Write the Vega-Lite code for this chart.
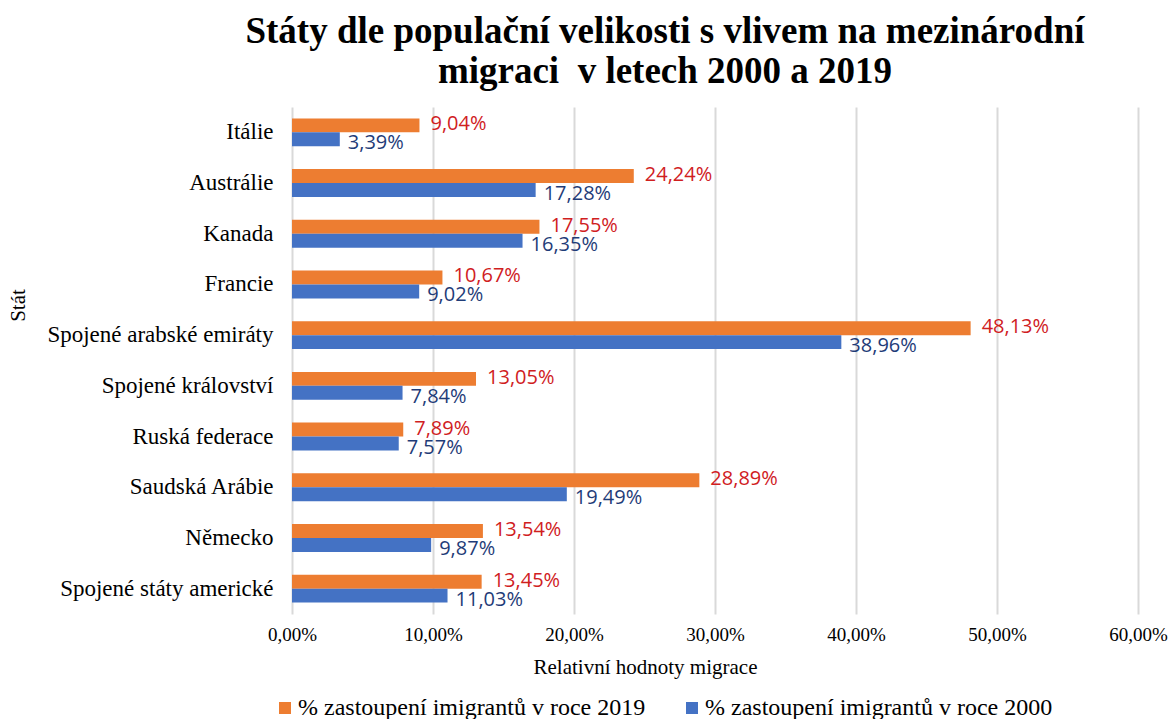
{
  "$schema": "https://vega.github.io/schema/vega-lite/v6.json",
  "autosize": "none",
  "width": 846,
  "height": 507,
  "padding": {"left": 292, "top": 107, "right": 38, "bottom": 105},
  "background": "white",
  "config": {
    "locale": {"number": {"decimal": ",", "thousands": " ", "grouping": [3], "currency": ["", " Kč"]}},
    "view": {"stroke": null},
    "font": "Liberation Serif"
  },
  "title": {
    "text": ["Státy dle populační velikosti s vlivem na mezinárodní", "migraci\u00a0 v letech 2000 a 2019"],
    "font": "Liberation Serif",
    "fontSize": 37,
    "fontWeight": "bold",
    "color": "#000000",
    "anchor": "middle",
    "frame": "group",
    "dx": -50,
    "offset": 16,
    "lineHeight": 40
  },
  "data": {
    "values": [
      {"country": "Itálie", "series": "% zastoupení imigrantů v roce 2019", "value": 0.0904},
      {"country": "Itálie", "series": "% zastoupení imigrantů v roce 2000", "value": 0.0339},
      {"country": "Austrálie", "series": "% zastoupení imigrantů v roce 2019", "value": 0.2424},
      {"country": "Austrálie", "series": "% zastoupení imigrantů v roce 2000", "value": 0.1728},
      {"country": "Kanada", "series": "% zastoupení imigrantů v roce 2019", "value": 0.1755},
      {"country": "Kanada", "series": "% zastoupení imigrantů v roce 2000", "value": 0.1635},
      {"country": "Francie", "series": "% zastoupení imigrantů v roce 2019", "value": 0.1067},
      {"country": "Francie", "series": "% zastoupení imigrantů v roce 2000", "value": 0.0902},
      {"country": "Spojené arabské emiráty", "series": "% zastoupení imigrantů v roce 2019", "value": 0.4813},
      {"country": "Spojené arabské emiráty", "series": "% zastoupení imigrantů v roce 2000", "value": 0.3896},
      {"country": "Spojené království", "series": "% zastoupení imigrantů v roce 2019", "value": 0.1305},
      {"country": "Spojené království", "series": "% zastoupení imigrantů v roce 2000", "value": 0.0784},
      {"country": "Ruská federace", "series": "% zastoupení imigrantů v roce 2019", "value": 0.0789},
      {"country": "Ruská federace", "series": "% zastoupení imigrantů v roce 2000", "value": 0.0757},
      {"country": "Saudská Arábie", "series": "% zastoupení imigrantů v roce 2019", "value": 0.2889},
      {"country": "Saudská Arábie", "series": "% zastoupení imigrantů v roce 2000", "value": 0.1949},
      {"country": "Německo", "series": "% zastoupení imigrantů v roce 2019", "value": 0.1354},
      {"country": "Německo", "series": "% zastoupení imigrantů v roce 2000", "value": 0.0987},
      {"country": "Spojené státy americké", "series": "% zastoupení imigrantů v roce 2019", "value": 0.1345},
      {"country": "Spojené státy americké", "series": "% zastoupení imigrantů v roce 2000", "value": 0.1103}
    ]
  },
  "encoding": {
    "y": {
      "field": "country",
      "type": "nominal",
      "sort": null,
      "scale": {"paddingInner": 0.45, "paddingOuter": 0.225},
      "axis": {
        "title": "Stát",
        "titleFont": "Liberation Serif",
        "titleFontSize": 21,
        "titleFontWeight": "normal",
        "titleColor": "#000000",
        "titleX": -274,
        "titleY": 198,
        "titleAngle": -90,
        "titleBaseline": "middle",
        "labelFont": "Liberation Serif",
        "labelFontSize": 23,
        "labelColor": "#000000",
        "labelPadding": 19,
        "labelLimit": 300,
        "ticks": false,
        "domain": false,
        "grid": false
      }
    },
    "yOffset": {
      "field": "series",
      "type": "nominal",
      "sort": ["% zastoupení imigrantů v roce 2019", "% zastoupení imigrantů v roce 2000"]
    },
    "x": {
      "field": "value",
      "type": "quantitative",
      "scale": {"domain": [0, 0.6], "nice": false},
      "axis": {
        "title": "Relativní hodnoty migrace",
        "titleFont": "Liberation Serif",
        "titleFontSize": 21,
        "titleFontWeight": "normal",
        "titleColor": "#000000",
        "titlePadding": 12,
        "titleX": 353,
        "labelFont": "Liberation Serif",
        "labelFontSize": 19,
        "labelColor": "#000000",
        "labelPadding": 11,
        "labelFlush": false,
        "format": ".2%",
        "values": [0, 0.1, 0.2, 0.3, 0.4, 0.5, 0.6],
        "ticks": false,
        "domain": false,
        "grid": true,
        "gridColor": "#D9D9D9",
        "gridWidth": 2
      }
    }
  },
  "layer": [
    {
      "mark": {"type": "bar"},
      "encoding": {
        "color": {
          "field": "series",
          "type": "nominal",
          "sort": ["% zastoupení imigrantů v roce 2019", "% zastoupení imigrantů v roce 2000"],
          "scale": {"domain": ["% zastoupení imigrantů v roce 2019", "% zastoupení imigrantů v roce 2000"], "range": ["#ED7D31", "#4472C4"]},
          "legend": {
            "title": null,
            "orient": "none",
            "direction": "horizontal",
            "legendX": -19,
            "legendY": 589,
            "symbolType": "square",
            "symbolSize": 144,
            "symbolStrokeWidth": 0,
            "labelFont": "Liberation Serif",
            "labelFontSize": 24,
            "labelColor": "#000000",
            "labelLimit": 500,
            "columnPadding": 34,
            "labelOffset": 1
          }
        }
      }
    },
    {
      "transform": [{"filter": "datum.series == '% zastoupení imigrantů v roce 2019'"}],
      "mark": {"type": "text", "align": "left", "baseline": "middle", "dx": 11, "dy": -1, "font": "Open Sans", "fontSize": 20, "color": "#D0201E"},
      "encoding": {"text": {"field": "value", "type": "quantitative", "format": ".2%"}}
    },
    {
      "transform": [{"filter": "datum.series == '% zastoupení imigrantů v roce 2000'"}],
      "mark": {"type": "text", "align": "left", "baseline": "middle", "dx": 8, "dy": 4, "font": "Open Sans", "fontSize": 20, "color": "#1F3C78"},
      "encoding": {"text": {"field": "value", "type": "quantitative", "format": ".2%"}}
    }
  ]
}
